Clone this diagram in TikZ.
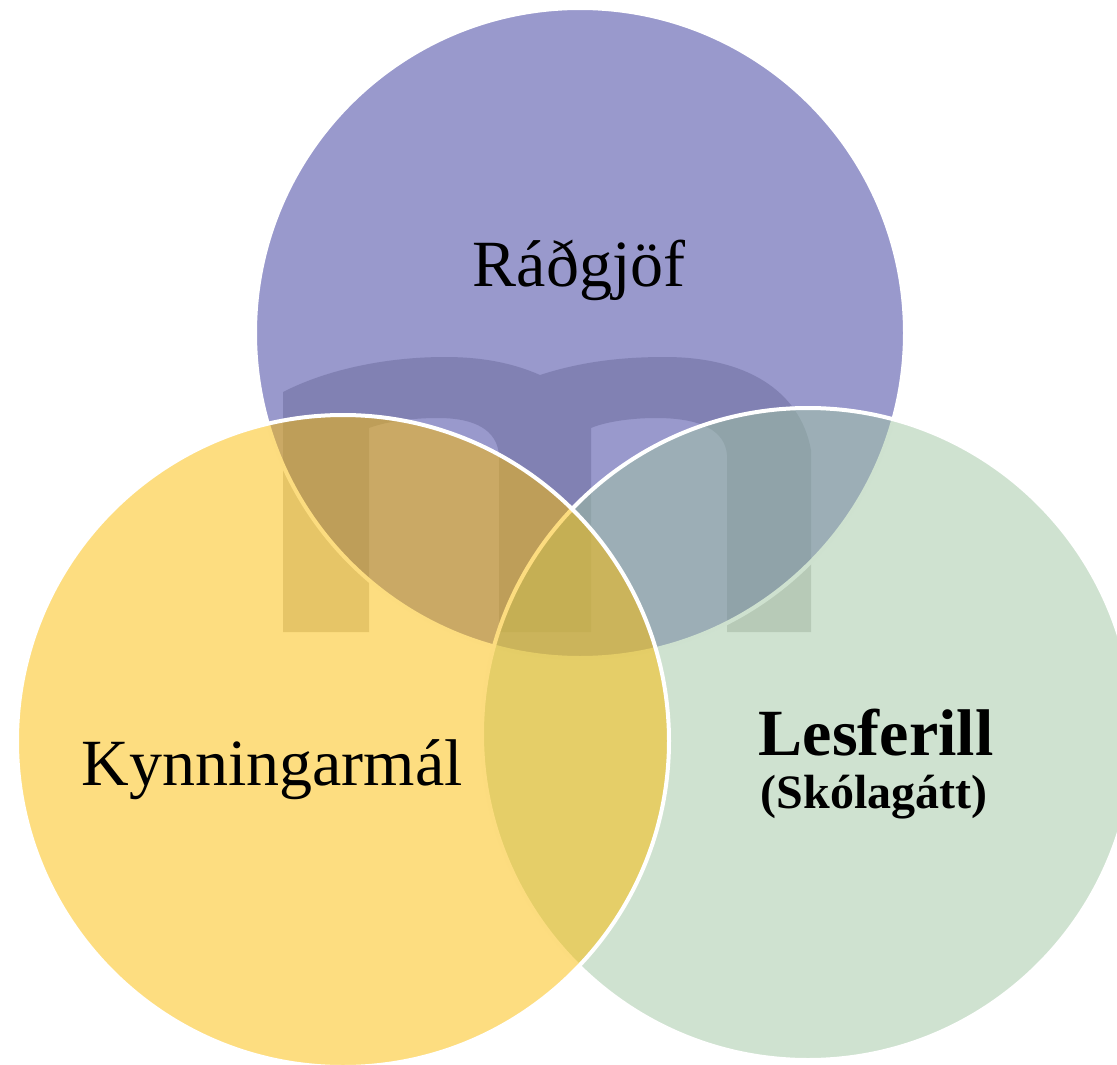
\documentclass[tikz,border=0pt]{standalone}
\usepackage{fontspec}
\setmainfont{Liberation Serif}
\definecolor{vpurple}{RGB}{51,51,153}
\definecolor{vyellow}{RGB}{251,187,1}
\definecolor{vgreen}{RGB}{159,197,161}
\definecolor{wmark}{RGB}{209,209,206}
\begin{document}
\begin{tikzpicture}[x=1pt,y=-1pt,
  venn/.style={fill opacity=0.5, draw=white, line width=4pt},
  lbl/.style={anchor=base, inner sep=0pt, text=black, font=\fontsize{66}{72}\selectfont},
  sublbl/.style={anchor=base, inner sep=0pt, text=black, font=\fontsize{48}{52}\selectfont\bfseries}]
\useasboundingbox (0,0) rectangle (1117,1065);
% faint logo behind the circles
\fill[wmark] (283,632) -- (283,392)
  .. controls (330,368) and (390,357) .. (445,357)
  .. controls (485,357) and (515,364) .. (540,375)
  .. controls (580,362) and (620,357) .. (665,357)
  .. controls (745,357) and (800,390) .. (811,450)
  -- (811,632) -- (727,632) -- (727,455)
  .. controls (725,430) and (700,418) .. (656,418)
  .. controls (630,418) and (605,422) .. (591,428)
  -- (591,632) -- (499,632) -- (499,455)
  .. controls (497,430) and (475,418) .. (438,418)
  .. controls (410,418) and (385,422) .. (369,428)
  -- (369,632) -- cycle;
% circles
\path[venn, fill=vpurple] (580,333) circle (325pt);
\path[venn, fill=vgreen] (808,734) circle (326pt);
\path[venn, fill=vyellow] (343,741) circle (326pt);
% labels
\node[lbl] (radgjof) at (579,286) {Ráðgjöf};
\node[lbl] (kynning) at (272,785) {Kynningarmál};
\node[lbl, font=\fontsize{66}{72}\selectfont\bfseries] (lesferill) at (876,755) {Lesferill};
\node[sublbl] (skolagatt) at (874,808) {(Skólagátt)};
\end{tikzpicture}
\end{document}
